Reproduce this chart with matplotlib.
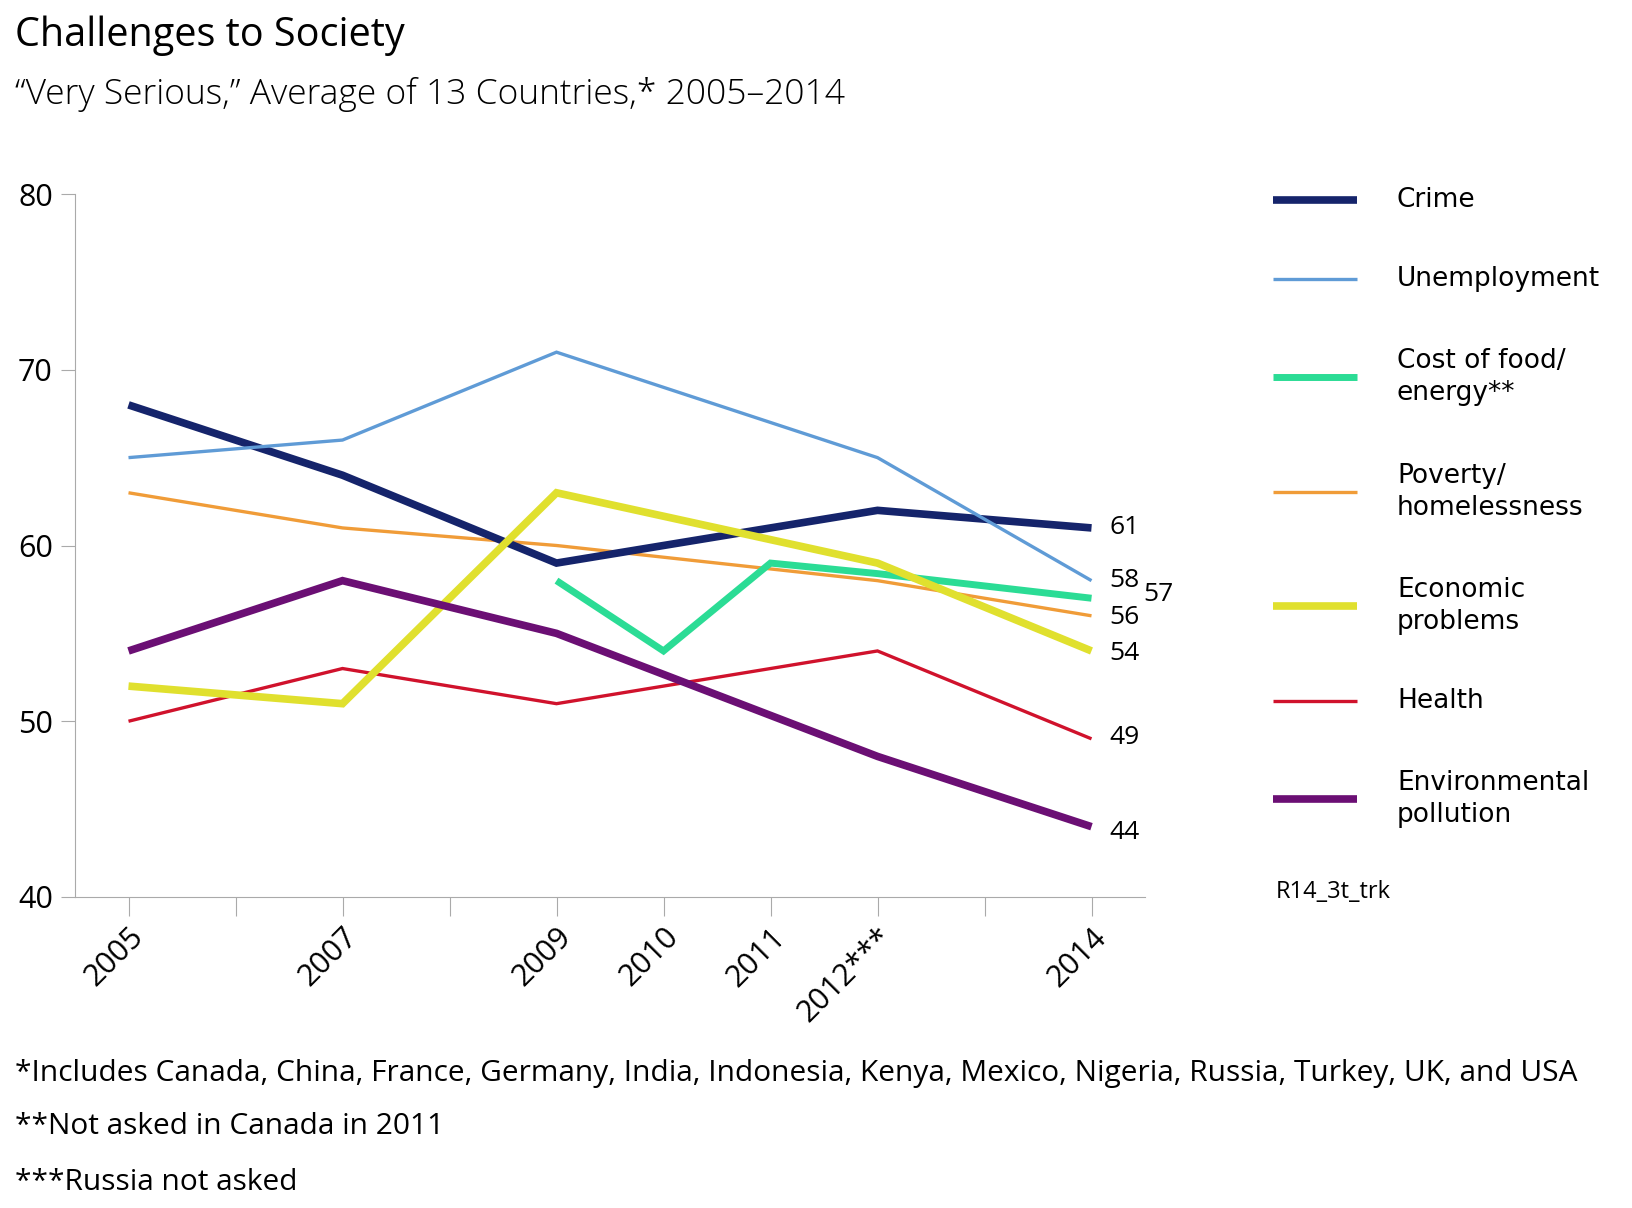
import numpy as np
import matplotlib
matplotlib.use("Agg")
import matplotlib.pyplot as plt
from matplotlib import font_manager

years = [2005, 2007, 2009, 2010, 2011, 2012, 2014]
tick_years = [2005, 2006, 2007, 2008, 2009, 2010, 2011, 2012, 2013, 2014]
tick_labels = ["2005", "", "2007", "", "2009", "2010", "2011", "2012***", "", "2014"]
nan = np.nan
crime = [68, 64, 59, nan, nan, 62, 61]
unemployment = [65, 66, 71, nan, nan, 65, 58]
food_energy = [nan, nan, 58, 54, 59, 58.4, 57]
poverty = [63, 61, 60, nan, nan, 58, 56]
economic = [52, 51, 63, nan, nan, 59, 54]
health = [50, 53, 51, nan, nan, 54, 49]
environment = [54, 58, 55, nan, nan, 48, 44]

series_names = ["Crime", "Unemployment", "Cost of food/\nenergy**", "Poverty/\nhomelessness",
                "Economic\nproblems", "Health", "Environmental\npollution"]
series_values = [crime, unemployment, food_energy, poverty, economic, health, environment]
colors = ["#15246b", "#5f9bd6", "#2bdc95", "#f09c38", "#e0e02e", "#d0122c", "#6b0f74"]
widths = [5.5, 2.4, 5.0, 2.4, 5.5, 2.4, 5.5]
zorders = [4, 5, 6, 3, 7, 2, 8]
end_labels = ["61", "58", "57", "56", "54", "49", "44"]
end_offsets = [(13, 0), (13, 0), (37, 3), (13, -1), (13, -2), (13, 1), (13, -4)]

fams = {f.name for f in font_manager.fontManager.ttflist}
main_font = "Open Sans" if "Open Sans" in fams else "DejaVu Sans"
plt.rcParams["font.family"] = [main_font, "DejaVu Sans"]

W, H = 1633, 1208
fig = plt.figure(figsize=(W / 100, H / 100), dpi=100)

def fx(x):
    return x / W

def fy(y):
    return 1 - y / H

ax_l, ax_r, ax_t, ax_b = 75, 1145, 194, 897
ax = fig.add_axes([fx(ax_l), fy(ax_b), fx(ax_r - ax_l), (ax_b - ax_t) / H])

for vals, c, lw, z in zip(series_values, colors, widths, zorders):
    arr = np.array(vals, dtype=float)
    m = ~np.isnan(arr)
    ax.plot(np.array(years)[m], arr[m], color=c, lw=lw, zorder=z, solid_capstyle="butt",
            solid_joinstyle="miter")

for vals, lab, off in zip(series_values, end_labels, end_offsets):
    ax.annotate(lab, xy=(years[-1], vals[-1]), xytext=off, textcoords="offset points",
                ha="left", va="center", fontsize=19, color="black")

ax.set_xlim(2004.5, 2014.5)
ax.set_ylim(40, 80)
ax.set_yticks([40, 50, 60, 70, 80])
ax.set_yticklabels(["40", "50", "60", "70", "80"], fontsize=22)
ax.set_xticks(tick_years)
ax.set_xticklabels(tick_labels, fontsize=22, rotation=45, ha="right", rotation_mode="anchor")
ax.tick_params(axis="x", direction="out", length=14, width=0.8, color="#aaaaaa", pad=4)
ax.tick_params(axis="y", direction="out", length=10, width=0.8, color="#aaaaaa", pad=6)
for s in ["top", "right"]:
    ax.spines[s].set_visible(False)
for s in ["left", "bottom"]:
    ax.spines[s].set_color("#aaaaaa")
    ax.spines[s].set_linewidth(0.8)
ax.patch.set_alpha(0)

# Legend drawn manually
leg_y = [200, 279, 377, 492, 606, 701, 799]
for name, c, lw, y in zip(series_names, colors, widths, leg_y):
    fig.add_artist(plt.Line2D([fx(1273), fx(1357)], [fy(y), fy(y)], color=c, lw=lw,
                              solid_capstyle="butt"))
    fig.text(fx(1397), fy(y), name, fontsize=19, va="center", ha="left",
             linespacing=1.3, family="DejaVu Sans")

fig.text(fx(1276), fy(892), "R14_3t_trk", fontsize=17, va="center", ha="left")

fig.text(fx(15), fy(36), "Challenges to Society", fontsize=28.5, va="center", ha="left")
fig.text(fx(15), fy(94), "\u201cVery Serious,\u201d Average of 13 Countries,* 2005\u20132014",
         fontsize=25.5, va="center", ha="left", fontweight="light")

foot = ["*Includes Canada, China, France, Germany, India, Indonesia, Kenya, Mexico, Nigeria, Russia, Turkey, UK, and USA",
        "**Not asked in Canada in 2011",
        "***Russia not asked"]
for t, y in zip(foot, [1073, 1127, 1182]):
    fig.text(fx(15), fy(y), t, fontsize=21.5, va="center", ha="left")

fig.savefig("out.png", dpi=100)
